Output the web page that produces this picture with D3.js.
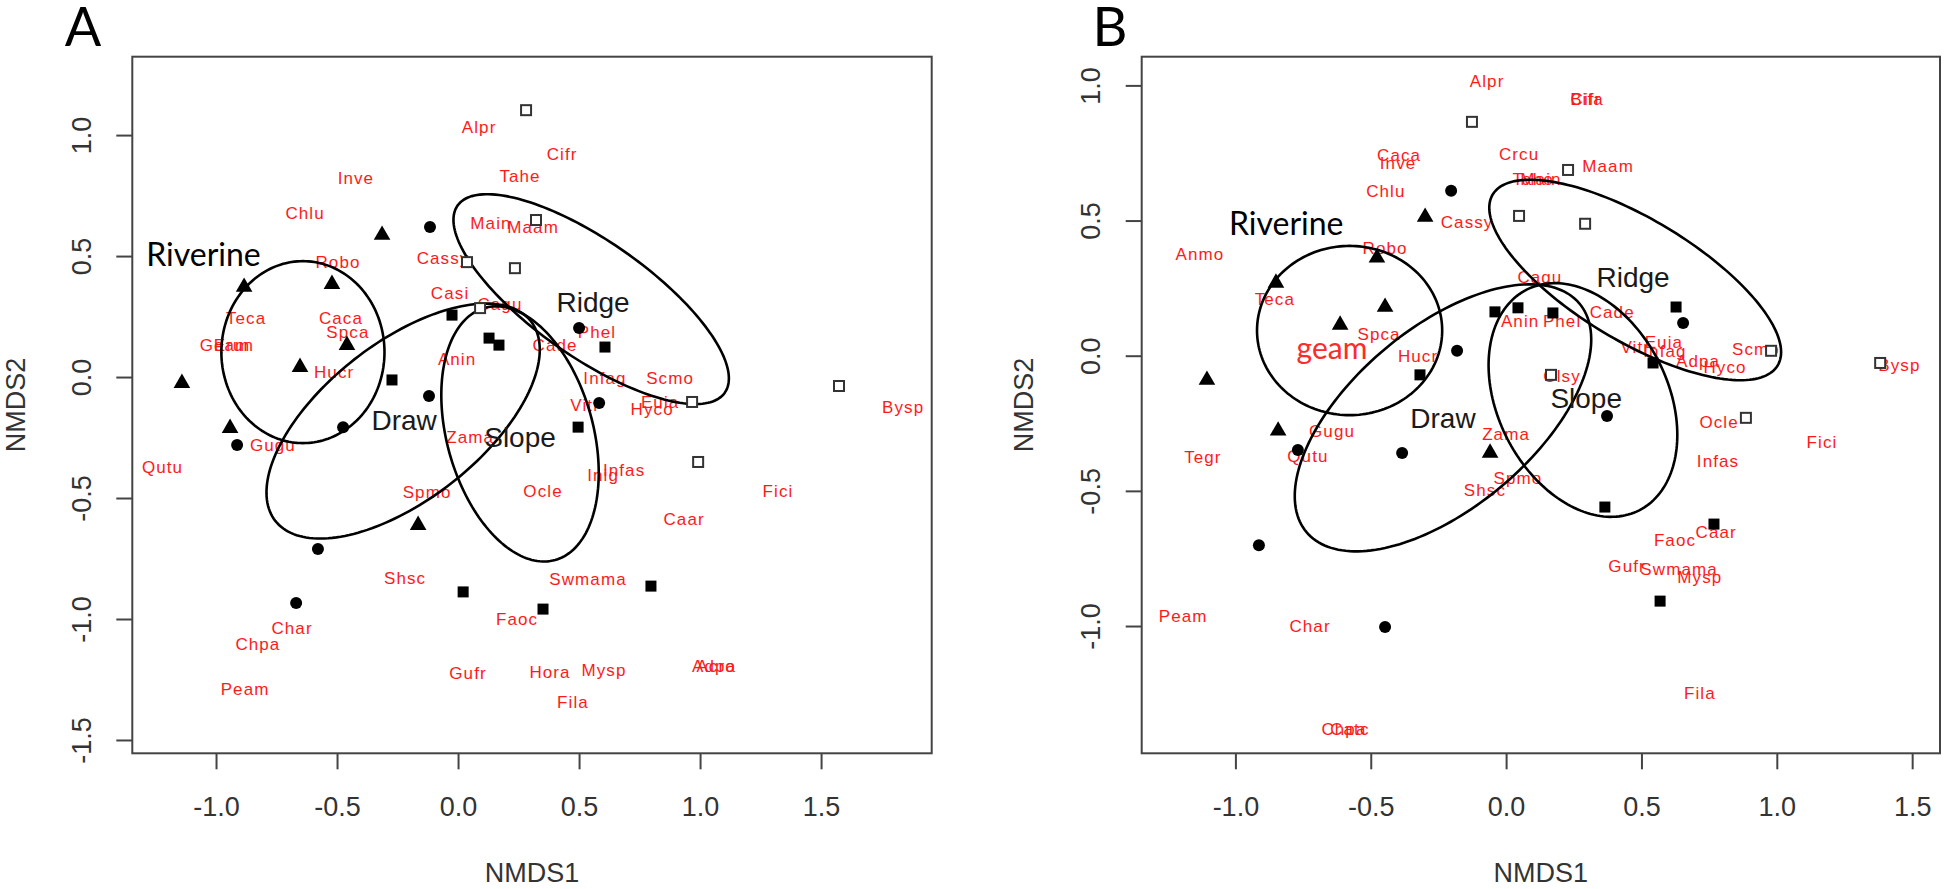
<!DOCTYPE html>
<html><head><meta charset="utf-8">
<script src="https://cdn.jsdelivr.net/npm/d3@7"></script>
<style>body{margin:0;background:#fff} svg{display:block}</style>
</head><body><svg id="c" width="1946" height="889"></svg>
<script>
// ---------------- data ----------------
const xTicks = [-1.0, -0.5, 0.0, 0.5, 1.0, 1.5];
const yTicksA = [-1.5, -1.0, -0.5, 0.0, 0.5, 1.0];
const yTicksB = [-1.0, -0.5, 0.0, 0.5, 1.0];
const axisTitles = ["NMDS1", "NMDS2"];
const panelNames = ["A", "B"];
const groups = ["Riverine", "Draw", "Slope", "Ridge"];

// Panel A species scores [name, NMDS1, NMDS2]
const speciesA = [
  ["Alpr",0.085,1.035],["Inve",-0.424,0.821],["Chlu",-0.634,0.680],["Robo",-0.498,0.477],
  ["Cassy",-0.064,0.494],["Casi",-0.035,0.349],["Caca",-0.486,0.246],["Spca",-0.457,0.188],
  ["Teca",-0.878,0.242],["Geam",-0.965,0.134],["Erun",-0.928,0.134],["Hucr",-0.514,0.019],
  ["Gugu",-0.767,-0.279],["Qutu",-1.223,-0.370],["Spmo",-0.130,-0.477],["Shsc",-0.221,-0.831],
  ["Char",-0.688,-1.039],["Chpa",-0.829,-1.105],["Peam",-0.882,-1.291],["Gufr",0.039,-1.225],
  ["Zama",0.048,-0.246],["Anin",-0.006,0.076],["Main",0.134,0.638],["Maam",0.308,0.622],
  ["Tahe",0.254,0.829],["Cifr",0.428,0.923],["Cagu",0.171,0.300],["Phel",0.572,0.188],
  ["Cade",0.399,0.134],["Infag",0.605,-0.006],["Scmo",0.874,-0.006],["Vitr",0.523,-0.114],
  ["Euia",0.833,-0.105],["Hyco",0.800,-0.134],["Infas",0.684,-0.386],["Inig",0.597,-0.403],
  ["Ocle",0.349,-0.473],["Caar",0.932,-0.585],["Fici",1.320,-0.473],["Bysp",1.837,-0.122],
  ["Swmama",0.535,-0.833],["Faoc",0.242,-0.998],["Hora",0.378,-1.221],["Mysp",0.601,-1.209],
  ["Fila",0.473,-1.345],["Adpa",1.056,-1.196],["Acro",1.064,-1.196]
];
// Panel A site scores by habitat
const riverineA = [[-0.316,0.589],[-0.886,0.374],[-0.523,0.386],[-0.461,0.134],[-0.655,0.043],[-1.143,-0.023],[-0.944,-0.209],[-0.167,-0.610]];
const drawA = [[-0.118,0.622],[-0.122,-0.076],[-0.915,-0.279],[-0.581,-0.709],[-0.671,-0.932],[0.498,0.205],[0.581,-0.105],[-0.477,-0.205]];
const ridgeA = [[0.279,1.105],[0.320,0.651],[0.233,0.452],[0.035,0.477],[0.089,0.287],[0.965,-0.101],[1.572,-0.035],[0.990,-0.349]];
const slopeA = [[-0.027,0.258],[0.126,0.163],[0.167,0.134],[-0.275,-0.010],[0.605,0.126],[0.494,-0.205],[0.019,-0.886],[0.349,-0.957],[0.795,-0.862]];
// Panel A ellipses [group, centreX, centreY, semiMajor, semiMinor, angleDeg]
const ellipsesA = [
  ["Riverine",-0.643,0.105,0.337,0.376,0],
  ["Draw",-0.229,-0.180,0.670,0.325,38],
  ["Slope",0.254,-0.233,0.541,0.302,-74.4],
  ["Ridge",0.548,0.324,0.674,0.240,-35]
];
const groupLabelsA = [["Riverine",-1.054,0.514],["Draw",-0.225,-0.176],["Slope",0.254,-0.246],["Ridge",0.556,0.312]];

// Panel B species scores
const speciesB = [
  ["Anmo",-1.133,0.378],["Caca",-0.397,0.742],["Inve",-0.401,0.713],["Chlu",-0.446,0.610],
  ["Cassy",-0.146,0.496],["Robo",-0.449,0.397],["Teca",-0.856,0.208],["Spca",-0.471,0.079],
  ["Hucr",-0.327,-0.002],["Gugu",-0.645,-0.280],["Qutu",-0.734,-0.372],["Tegr",-1.122,-0.376],
  ["Zama",-0.002,-0.291],["Spmo",0.042,-0.454],["Shsc",-0.080,-0.495],["Peam",-1.195,-0.964],
  ["Char",-0.726,-1.001],["Chpa",-0.601,-1.382],["Catc",-0.579,-1.382],["Alpr",-0.072,1.015],
  ["Cifr",0.293,0.948],["Bifa",0.297,0.948],["Crcu",0.046,0.745],["Maam",0.375,0.700],
  ["Tahe",0.098,0.652],["Main",0.127,0.652],["Cagu",0.123,0.290],["Anin",0.050,0.127],
  ["Phel",0.205,0.127],["Cade",0.390,0.160],["Vitr",0.475,0.031],["Euia",0.581,0.049],
  ["Infag",0.585,0.016],["Adpa",0.707,-0.021],["Hyco",0.807,-0.043],["Scmo",0.921,0.023],
  ["Bysp",1.451,-0.036],["Clsy",0.205,-0.076],["Ocle",0.785,-0.247],["Fici",1.165,-0.321],
  ["Infas",0.781,-0.388],["Caar",0.774,-0.654],["Faoc",0.622,-0.683],["Gufr",0.445,-0.779],
  ["Swmama",0.637,-0.790],["Mysp",0.714,-0.820],["Fila",0.714,-1.246]
];
const riverineB = [[-0.852,0.271],[-0.479,0.364],[-0.449,0.182],[-0.615,0.116],[-1.107,-0.088],[-0.844,-0.276],[-0.301,0.515],[-0.061,-0.358]];
const drawB = [[-0.205,0.612],[-0.183,0.020],[-0.771,-0.347],[-0.386,-0.358],[-0.915,-0.699],[-0.449,-1.002],[0.652,0.123],[0.371,-0.221]];
const ridgeB = [[-0.128,0.867],[0.227,0.689],[0.046,0.519],[0.290,0.490],[0.164,-0.069],[0.977,0.020],[1.380,-0.025],[0.884,-0.228]];
const slopeB = [[-0.320,-0.069],[-0.043,0.164],[0.042,0.179],[0.171,0.160],[0.626,0.182],[0.541,-0.025],[0.363,-0.558],[0.766,-0.621],[0.567,-0.906]];
const ellipsesB = [
  ["Riverine",-0.580,0.095,0.342,0.313,0],
  ["Draw",-0.235,-0.228,0.658,0.333,40],
  ["Slope",0.282,-0.162,0.458,0.314,-63],
  ["Ridge",0.475,0.282,0.614,0.226,-31]
];
const groupLabelsB = [["Riverine",-0.814,0.496],["Draw",-0.235,-0.232],["Slope",0.294,-0.158],["Ridge",0.467,0.290]];
const extraLabelsB = [["geam",-0.645,0.035]];

// ---------------- drawing ----------------
const svg = d3.select("#c");
const fmt = v => v.toFixed(1);

const panels = [
  {name: panelNames[0], box: [132.3, 56.7, 931.7, 753.3], xd: [-1.348, 1.955], yd: [-1.553, 1.326],
   yTicks: yTicksA, species: speciesA, riv: riverineA, drw: drawA, rdg: ridgeA, slp: slopeA,
   ell: ellipsesA, glab: groupLabelsA, extra: [], letterX: 83, yLabX: 82, yTitleX: 16},
  {name: panelNames[1], box: [1141.7, 56.7, 1940, 753.3], xd: [-1.348, 1.601], yd: [-1.469, 1.108],
   yTicks: yTicksB, species: speciesB, riv: riverineB, drw: drawB, rdg: ridgeB, slp: slopeB,
   ell: ellipsesB, glab: groupLabelsB, extra: extraLabelsB, letterX: 1110, yLabX: 1091, yTitleX: 1024}
];

panels.forEach(p => {
  const [L, T, R, B] = p.box;
  const x = d3.scaleLinear().domain(p.xd).range([L, R]);
  const y = d3.scaleLinear().domain(p.yd).range([B, T]);
  const g = svg.append("g");

  // panel letter
  g.append("text").attr("x", p.letterX).attr("y", 46).attr("text-anchor", "middle")
    .attr("font-family", "Lato, 'Open Sans', sans-serif").attr("font-size", 54).attr("fill", "#000")
    .text(p.name);

  // frame
  g.append("rect").attr("x", L).attr("y", T).attr("width", R - L).attr("height", B - T)
    .attr("fill", "none").attr("stroke", "#444").attr("stroke-width", 2);

  // x ticks
  g.selectAll(".xt").data(xTicks).enter().append("line")
    .attr("x1", d => x(d)).attr("x2", d => x(d)).attr("y1", B).attr("y2", B + 16)
    .attr("stroke", "#444").attr("stroke-width", 2);
  g.selectAll(".xl").data(xTicks).enter().append("text")
    .attr("x", d => x(d)).attr("y", 807).attr("text-anchor", "middle").attr("dominant-baseline", "central")
    .attr("font-family", "'Liberation Sans', Arial, sans-serif").attr("font-size", 27).attr("fill", "#333")
    .text(fmt);
  // y ticks
  g.selectAll(".yt").data(p.yTicks).enter().append("line")
    .attr("x1", L).attr("x2", L - 16).attr("y1", d => y(d)).attr("y2", d => y(d))
    .attr("stroke", "#444").attr("stroke-width", 2);
  g.selectAll(".yl").data(p.yTicks).enter().append("text")
    .attr("transform", d => `translate(${p.yLabX},${y(d)}) rotate(-90)`)
    .attr("text-anchor", "middle").attr("dominant-baseline", "central")
    .attr("font-family", "'Liberation Sans', Arial, sans-serif").attr("font-size", 27).attr("fill", "#333")
    .text(fmt);
  // axis titles
  g.append("text").attr("x", (L + R) / 2).attr("y", 873).attr("text-anchor", "middle").attr("dominant-baseline", "central")
    .attr("font-family", "'Liberation Sans', Arial, sans-serif").attr("font-size", 27).attr("fill", "#333")
    .text(axisTitles[0]);
  g.append("text").attr("transform", `translate(${p.yTitleX},${(T + B) / 2}) rotate(-90)`)
    .attr("text-anchor", "middle").attr("dominant-baseline", "central")
    .attr("font-family", "'Liberation Sans', Arial, sans-serif").attr("font-size", 27).attr("fill", "#333")
    .text(axisTitles[1]);

  // species labels
  g.selectAll(".sp").data(p.species).enter().append("text")
    .attr("x", d => x(d[1])).attr("y", d => y(d[2]))
    .attr("text-anchor", "middle").attr("dominant-baseline", "central")
    .attr("font-family", "'Liberation Sans', Arial, sans-serif").attr("font-size", 17)
    .attr("letter-spacing", 1.1).attr("fill", "#ff1a1a").text(d => d[0]);

  p.extra.forEach(d => {
    g.append("text").attr("x", x(d[1])).attr("y", y(d[2])).attr("text-anchor", "middle")
      .attr("dominant-baseline", "central").attr("font-family", "Lato, 'Open Sans', sans-serif")
      .attr("font-size", 30).attr("fill", "#ff2a2a").text(d[0]);
  });

  // ellipses
  const line = d3.line().x(d => x(d[0])).y(d => y(d[1])).curve(d3.curveLinearClosed);
  p.ell.forEach(e => {
    const [, cx, cy, a, b, ang] = e;
    const th = ang * Math.PI / 180;
    const pts = d3.range(0, 360, 2).map(t => {
      const r = t * Math.PI / 180;
      return [cx + a * Math.cos(th) * Math.cos(r) - b * Math.sin(th) * Math.sin(r),
              cy + a * Math.sin(th) * Math.cos(r) + b * Math.cos(th) * Math.sin(r)];
    });
    g.append("path").attr("d", line(pts)).attr("fill", "none").attr("stroke", "#000").attr("stroke-width", 2.6);
  });

  // site points
  g.selectAll(".tri").data(p.riv).enter().append("path")
    .attr("d", d3.symbol(d3.symbolTriangle, 120)())
    .attr("transform", d => `translate(${x(d[0])},${y(d[1])})`).attr("fill", "#000");
  g.selectAll(".cir").data(p.drw).enter().append("circle")
    .attr("cx", d => x(d[0])).attr("cy", d => y(d[1])).attr("r", 6).attr("fill", "#000");
  g.selectAll(".sq").data(p.slp).enter().append("rect")
    .attr("x", d => x(d[0]) - 5.5).attr("y", d => y(d[1]) - 5.5).attr("width", 11).attr("height", 11).attr("fill", "#000");
  g.selectAll(".osq").data(p.rdg).enter().append("rect")
    .attr("x", d => x(d[0]) - 5).attr("y", d => y(d[1]) - 5).attr("width", 10).attr("height", 10)
    .attr("fill", "#fff").attr("stroke", "#333").attr("stroke-width", 2);

  // group labels
  p.glab.forEach(d => {
    const isRiv = d[0] === groups[0];
    g.append("text").attr("x", x(d[1])).attr("y", y(d[2])).attr("text-anchor", "middle")
      .attr("dominant-baseline", "central")
      .attr("font-family", isRiv ? "Lato, 'Open Sans', sans-serif" : "'Liberation Sans', Arial, sans-serif")
      .attr("font-size", isRiv ? 32 : 28).attr("fill", isRiv ? "#000" : "#1a1a1a").text(d[0]);
  });
});
</script></body></html>
